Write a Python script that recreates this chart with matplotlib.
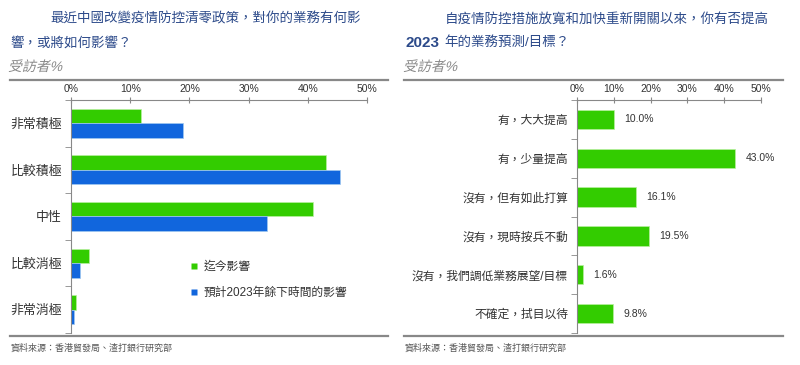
import matplotlib
matplotlib.use("Agg")
import matplotlib.pyplot as plt
import numpy as np
from matplotlib.lines import Line2D
from matplotlib.textpath import TextPath
from matplotlib.patches import PathPatch
from matplotlib.font_manager import FontProperties
from matplotlib.transforms import Affine2D

plt.rcParams['font.family'] = ['Liberation Sans', 'Noto Sans CJK TC', 'DejaVu Sans']

# left chart data
left_cats = ['非常積極', '比較積極', '中性', '比較消極', '非常消極']
left_now = [11.8, 43.1, 40.9, 3.0, 0.8]
left_rest = [19.0, 45.5, 33.1, 1.5, 0.5]
left_legend = ['迄今影響', '預計2023年餘下時間的影響']

# right chart data
right_cats = ['有，大大提高', '有，少量提高', '沒有，但有如此打算', '沒有，現時按兵不動',
              '沒有，我們調低業務展望/目標', '不確定，拭目以待']
right_vals = [10.0, 43.0, 16.1, 19.5, 1.6, 9.8]

xticks = [0, 10, 20, 30, 40, 50]
xticklabels = ['0%', '10%', '20%', '30%', '40%', '50%']

green = '#33cc00'
blue = '#1166dd'
navy = '#2c4a8a'
grey = '#888888'
txt = '#333333'

W, H = 800, 365
fig = plt.figure(figsize=(8, 3.65), dpi=100)


def style_axis(ax, n):
    ax.set_xlim(0, 50)
    ax.set_ylim(n - 0.5, -0.5)
    ax.xaxis.tick_top()
    ax.set_xticks(xticks)
    ax.set_xticklabels(xticklabels, fontsize=7.5, color=txt)
    ax.tick_params(axis='x', direction='inout', length=4, color=grey, pad=2)
    ax.set_yticks(range(n))
    ax.set_yticks(np.arange(-0.5, n, 1.0), minor=True)
    ax.tick_params(axis='y', which='major', length=0, pad=6.5)
    ax.tick_params(axis='y', which='minor', length=4, color=grey)
    for s in ['right', 'bottom']:
        ax.spines[s].set_visible(False)
    for s in ['left', 'top']:
        ax.spines[s].set_color(grey)
        ax.spines[s].set_linewidth(0.8)


def slanted(s, x, y, size, color):
    # CJK font has no italic face, so shear the glyph outlines
    tp = TextPath((0, 0), s, size=size, prop=FontProperties(family=['Liberation Sans', 'Noto Sans CJK TC']))
    tr = Affine2D().scale(100 / 72).skew_deg(14, 0).translate(x, H - y)
    fig.add_artist(PathPatch(tp, transform=tr, color=color, lw=0))


# left panel
ax1 = fig.add_axes([71 / W, 1 - 333 / H, 296 / W, 233 / H])
y = np.arange(len(left_cats))
h = 0.31
ax1.barh(y - h / 2, left_now, height=h, color=green, edgecolor='#b8f0a0', linewidth=0.5)
ax1.barh(y + h / 2, left_rest, height=h, color=blue, edgecolor='#a0c8f0', linewidth=0.5)
style_axis(ax1, len(left_cats))
ax1.set_yticklabels(left_cats, fontsize=9.3, color=txt)
handles = [Line2D([], [], marker='s', color='none', markerfacecolor=green, markeredgecolor='none', markersize=5),
           Line2D([], [], marker='s', color='none', markerfacecolor=blue, markeredgecolor='none', markersize=5)]
ax1.legend(handles, left_legend, loc='upper left', bbox_to_anchor=(0.405, 0.31), frameon=False,
           fontsize=8.5, labelcolor=txt, handlelength=0.6, handletextpad=0.5, labelspacing=1.2,
           borderpad=0, borderaxespad=0)

# right panel
ax2 = fig.add_axes([577 / W, 1 - 333 / H, 184 / W, 233 / H])
y2 = np.arange(len(right_cats))
ax2.barh(y2, right_vals, height=0.5, color=green, edgecolor='#b8f0a0', linewidth=0.5)
style_axis(ax2, len(right_cats))
ax2.set_yticklabels(right_cats, fontsize=8.5, color=txt)
for yi, v in zip(y2, right_vals):
    ax2.text(v + 2.8, yi, '%.1f%%' % v, va='center', ha='left', fontsize=7.5, color=txt)

# titles
tsize = 9.7
fig.text(50 / W, 1 - 19 / H, '最近中國改變疫情防控清零政策，對你的業務有何影', fontsize=tsize, color=navy, va='center')
fig.text(10 / W, 1 - 43 / H, '響，或將如何影響？', fontsize=tsize, color=navy, va='center')
fig.text(445 / W, 1 - 19 / H, '自疫情防控措施放寬和加快重新開關以來，你有否提高', fontsize=tsize, color=navy, va='center')
fig.text(405 / W, 1 - 43 / H, '2023', fontsize=11, color=navy, va='center', weight='bold')
fig.text(444 / W, 1 - 43 / H, '年的業務預測/目標？', fontsize=tsize, color=navy, va='center')
slanted('受訪者%', 8, 71, 10, grey)
slanted('受訪者%', 403, 71, 10, grey)

# rules
for x0, x1 in [(10, 388), (404, 783)]:
    for yy in (80, 335.5):
        fig.add_artist(Line2D([x0 / W, x1 / W], [1 - yy / H, 1 - yy / H], color=grey, lw=1.6))

fig.text(11 / W, 1 - 348 / H, '資料來源：香港貿發局、渣打銀行研究部', fontsize=6.5, color='#555555', va='center')
fig.text(405 / W, 1 - 348 / H, '資料來源：香港貿發局、渣打銀行研究部', fontsize=6.5, color='#555555', va='center')

fig.savefig('out.png', dpi=100)
